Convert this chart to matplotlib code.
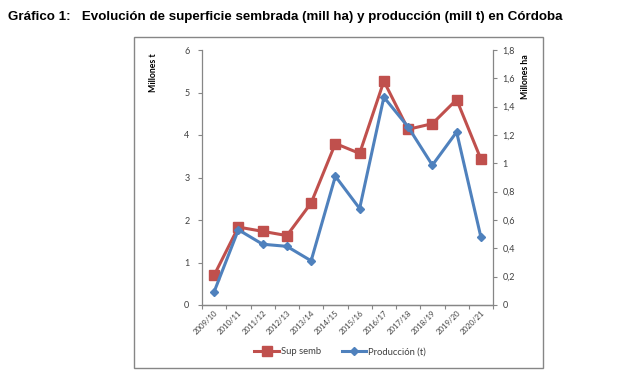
import matplotlib.pyplot as plt
from matplotlib.patches import Rectangle
from matplotlib.ticker import FixedLocator, FuncFormatter, MultipleLocator
from matplotlib.lines import Line2D

campanas = ['2009/10', '2010/11', '2011/12', '2012/13', '2013/14', '2014/15',
            '2015/16', '2016/17', '2017/18', '2018/19', '2019/20', '2020/21']
sup_semb = [0.21, 0.55, 0.52, 0.49, 0.72, 1.14, 1.07, 1.58, 1.24, 1.28, 1.45, 1.03]   # mill ha
produccion = [0.31, 1.77, 1.43, 1.38, 1.04, 3.03, 2.27, 4.89, 4.19, 3.29, 4.07, 1.60]  # mill t

ROJO = '#C0504D'
AZUL = '#4F81BD'
GRIS = '#868686'
TXT = '#404040'

fig = plt.figure(figsize=(6.34, 3.73), dpi=100)
fig.patch.set_facecolor('white')

fig.text(0.013, 0.955, 'Gráfico 1:   Evolución de superficie sembrada (mill ha) y producción (mill t) en Córdoba',
         fontsize=9.6, fontweight='bold', family='Liberation Sans', va='center', ha='left')

# marco del gráfico
fig.patches.append(Rectangle((134 / 634, 5 / 373), 409 / 634, 331 / 373, transform=fig.transFigure,
                             fill=False, edgecolor=GRIS, linewidth=1.0))

ax = fig.add_axes([202 / 634, 68 / 373, 291 / 634, 255 / 373])
ax2 = ax.twinx()
ax.set_zorder(ax2.get_zorder() + 1)
ax.patch.set_visible(False)

x = list(range(len(campanas)))
ax2.plot(x, sup_semb, color=ROJO, linewidth=2.2, marker='s', markersize=6.5, label='Sup semb')
ax.plot(x, produccion, color=AZUL, linewidth=2.2, marker='D', markersize=4.2, label='Producción (t)')

ax.set_xlim(-0.5, len(campanas) - 0.5)
ax.set_ylim(0, 6)
ax2.set_ylim(0, 1.8)
ax.yaxis.set_major_locator(MultipleLocator(1))
ax2.yaxis.set_major_locator(MultipleLocator(0.2))
ax2.yaxis.set_major_formatter(FuncFormatter(lambda v, p: '{:g}'.format(round(v, 1)).replace('.', ',')))

ax.xaxis.set_major_locator(FixedLocator([i - 0.5 for i in range(len(campanas) + 1)]))
ax.xaxis.set_major_formatter(FuncFormatter(lambda v, p: ''))
ax.xaxis.set_minor_locator(FixedLocator(x))
ax.set_xticklabels(campanas, minor=True, rotation=45, ha='right', va='top', rotation_mode='anchor',
                   fontsize=5.6, family='Lato', color=TXT)
ax.tick_params(axis='x', which='minor', length=0, pad=3)
ax.tick_params(axis='x', which='major', length=3, color=GRIS, direction='out')

ax.tick_params(axis='y', length=3, color=GRIS, labelsize=6.5, labelcolor=TXT, pad=6)
ax2.tick_params(axis='y', length=3, color=GRIS, labelsize=6.5, labelcolor=TXT, pad=4)
for lab in ax.get_yticklabels() + ax2.get_yticklabels():
    lab.set_family('Lato')

for a in (ax, ax2):
    a.spines['top'].set_visible(False)
    for s in ('left', 'right', 'bottom'):
        a.spines[s].set_color(GRIS)
        a.spines[s].set_linewidth(0.9)
ax2.spines['left'].set_visible(False)
ax.spines['right'].set_visible(False)

fig.text(154 / 634, 1 - 73 / 373, 'Millones t', rotation=90, fontsize=6.3, fontweight='bold',
         family='Lato', ha='center', va='center')
fig.text(525 / 634, 1 - 77 / 373, 'Millones ha', rotation=90, fontsize=6.3, fontweight='bold',
         family='Lato', ha='center', va='center')

handles = [Line2D([], [], color=ROJO, linewidth=2.2, marker='s', markersize=6.5),
           Line2D([], [], color=AZUL, linewidth=2.2, marker='D', markersize=4.2)]
fig.legend(handles, ['Sup semb', 'Producción (t)'], loc='center', bbox_to_anchor=(340 / 634, 1 - 352 / 373),
           ncol=2, frameon=False, prop={'family': 'Lato', 'size': 6.8}, handlelength=2.6,
           handletextpad=0.2, columnspacing=2.2, labelcolor=TXT)

fig.savefig('out.png', dpi=100)
